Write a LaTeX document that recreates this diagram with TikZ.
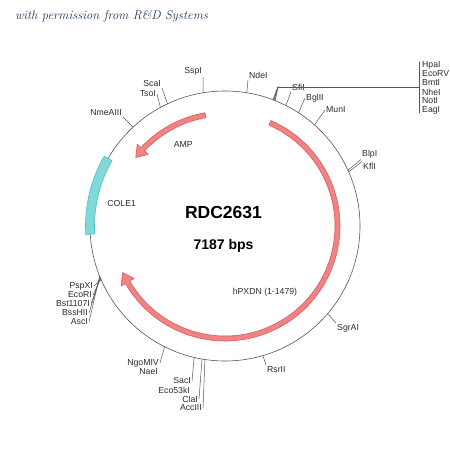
\documentclass[tikz,border=0pt]{standalone}
\usepackage{fontspec}
\newfontfamily\lblfont{Liberation Sans}
\definecolor{siteline}{HTML}{555555}
\definecolor{lbltext}{HTML}{2B2B2B}
\definecolor{hdrblue}{HTML}{1F3864}
\definecolor{ampfill}{HTML}{F08383}
\definecolor{ampdraw}{HTML}{DC5A5A}
\definecolor{orifill}{HTML}{80D8D8}
\definecolor{oridraw}{HTML}{45C2C2}
\begin{document}
\begin{tikzpicture}[x=1pt,y=1pt,line join=round,line cap=round]
	\tikzset{
		lbl/.style={font=\lblfont\fontsize{8.7}{9}\selectfont, text=lbltext, inner sep=1pt},
		tickline/.style={draw=siteline, line width=0.5pt},
		feature/.style={fill=ampfill, draw=ampdraw, line width=0.6pt},
		hdr/.style={font=\fontsize{12.6}{14}\selectfont\itshape, text=hdrblue, inner sep=0pt}
	}
	\useasboundingbox (0,0) rectangle (450,450);
	\node[hdr] (perm) at (111.5,434) {with permission from R\&D Systems};
	\begin{scope}[shift={(225,224)}]
		% backbone
		\draw[siteline, line width=0.6pt] (0,0) circle (135);
		% features
		\filldraw[fill=orifill, draw=oridraw, line width=0.6pt]
			(150:139.5) arc[start angle=150, end angle=183.5, radius=139.5]
			-- (183.5:130.5) arc[start angle=183.5, end angle=150, radius=130.5] -- cycle;
		\filldraw[feature] (100:115) arc[start angle=100, end angle=137, radius=115]
			-- (137:120) -- (142.5:112.5) -- (137:105) -- (137:110)
			arc[start angle=137, end angle=100, radius=110] -- cycle;
		\filldraw[feature] (66.5:115) arc[start angle=66.5, end angle=-150, radius=115]
			-- (-150:120) -- (-155.5:112.5) -- (-150:105) -- (-150:110)
			arc[start angle=-150, end angle=66.5, radius=110] -- cycle;
		\node[lbl] (amp) at (-41.7,81) {AMP};
		\node[lbl] (ori) at (-103.3,22.7) {COLE1};
		\node[lbl] (pxdn) at (40,-66) {hPXDN (1-1479)};
		\node[font=\lblfont\bfseries\fontsize{17.5}{20}\selectfont, inner sep=0pt] (name) at (-1.5,14) {RDC2631};
		\node[font=\lblfont\bfseries\fontsize{14}{16}\selectfont, inner sep=0pt] (size) at (-1.5,-20) {7187 bps};
		% single sites
		\coordinate (sSspI) at (99.3:135);
		\coordinate (sNdeI) at (80.7:135);
		\coordinate (sSfiI) at (63.2:135);
		\coordinate (sBglII) at (57:135);
		\coordinate (sMunI) at (48.5:135);
		\coordinate (sBlpI) at (24.4:135);
		\coordinate (sKflI) at (23.6:135);
		\coordinate (sSgrAI) at (-40.5:135);
		\coordinate (sRsrII) at (-73.7:135);
		\coordinate (sAccIII) at (-98.55:135);
		\coordinate (sClaI) at (-99.8:135);
		\coordinate (sSacI) at (-103.2:135);
		\coordinate (sNgoMIV) at (-116.6:135);
		\coordinate (sNmeAIII) at (132.9:135);
		\coordinate (sTsoI) at (118.6:135);
		\coordinate (sScaI) at (115.2:135);
		\node[lbl, anchor=south east] (tSspI) at (-22,149) {SspI};
		\node[lbl, anchor=south west] (tNdeI) at (23,146) {NdeI};
		\node[lbl, anchor=south west] (tSfiI) at (66,134) {SfiI};
		\node[lbl, anchor=west] (tBglII) at (80,128) {BglII};
		\node[lbl, anchor=west] (tMunI) at (100,116) {MunI};
		\node[lbl, anchor=south west] (tBlpI) at (136,66.5) {BlpI};
		\node[lbl, anchor=north west] (tKflI) at (137,64.5) {KflI};
		\node[lbl, anchor=north west] (tSgrAI) at (111,-97) {SgrAI};
		\node[lbl, anchor=north west] (tRsrII) at (41,-139) {RsrII};
		\node[lbl, anchor=east] (tSacI) at (-33,-155) {SacI};
		\node[lbl, anchor=east] (tEco) at (-34,-164) {Eco53kI};
		\node[lbl, anchor=east] (tClaI) at (-26,-173) {ClaI};
		\node[lbl, anchor=east] (tAccIII) at (-22,-182) {AccIII};
		\node[lbl, anchor=east] (tNgoMIV) at (-65,-137) {NgoMIV};
		\node[lbl, anchor=east] (tNaeI) at (-66,-146) {NaeI};
		\node[lbl, anchor=south east] (tNmeAIII) at (-102,109) {NmeAIII};
		\node[lbl, anchor=east] (tTsoI) at (-68,132) {TsoI};
		\node[lbl, anchor=south east] (tScaI) at (-63,138) {ScaI};
		\foreach \enz/\anc in {SspI/south east, NdeI/south west, SfiI/south west,
			BglII/west, MunI/west, BlpI/south west, KflI/north west, SgrAI/north west,
			RsrII/north west, SacI/east, ClaI/east, AccIII/east, NgoMIV/east,
			NmeAIII/south east, TsoI/east, ScaI/south east}
			\draw[tickline] (s\enz) -- (t\enz.\anc);
		% MCS cluster
		\coordinate (joint) at (53,139);
		\coordinate (bar) at (194,139);
		\foreach \ang in {68.2,68.7,69.2}
			\draw[tickline, line width=0.7pt] (\ang:135) -- (joint);
		\draw[tickline] (joint) -- (bar);
		\draw[tickline] (194,164) -- (194,113);
		\foreach \enz [count=\i] in {HpaI,EcoRV,BmtI,NheI,NotI,EagI}
			\node[lbl, anchor=west] (c\i) at (196,170-9*\i) {\enz};
		% left cluster
		\foreach \enz/\ang/\ex/\ey [count=\i] in {PspXI/-156.6/-131/-60, EcoRI/-157/-132/-69,
			Bst1107I/-157.4/-134/-78, BssHII/-157.8/-136/-87, AscI/-158.2/-136/-96}{
			\node[lbl, anchor=east] (p\i) at (\ex,\ey) {\enz};
			\draw[tickline] (\ang:135) -- (p\i.east);
		}
	\end{scope}
\end{tikzpicture}
\end{document}
